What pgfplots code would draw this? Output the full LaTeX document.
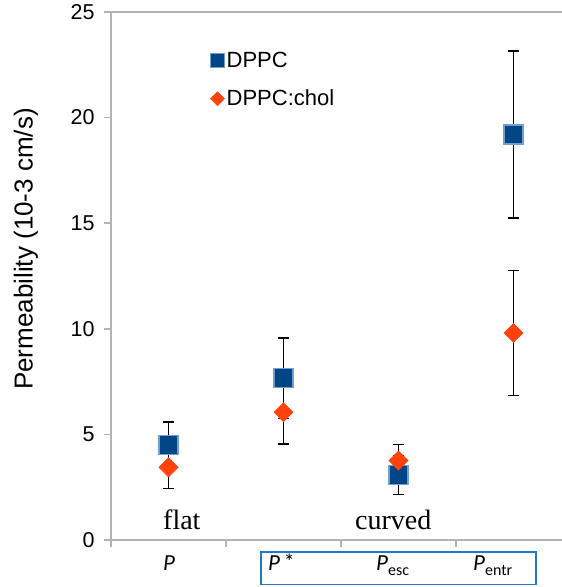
\documentclass[border=0pt]{standalone}
\usepackage{fontspec}
\setmainfont{Liberation Sans}
\newfontfamily\serifont{Liberation Serif}
\newfontfamily\carlito{Carlito}
\usepackage{pgfplots}
\pgfplotsset{compat=1.18}
\definecolor{dblue}{HTML}{004586}
\definecolor{lblue}{HTML}{729FCF}
\definecolor{dorange}{HTML}{FF420E}
\definecolor{axgray}{HTML}{B3B3B3}
\definecolor{boxblue}{HTML}{1F78C8}
\newcommand{\catfont}{\carlito\fontsize{23}{26}\selectfont}
\newcommand{\sub}[1]{\raisebox{-0.22em}{\fontsize{16}{18}\selectfont #1}}
\begin{document}
\begin{tikzpicture}[x=1pt,y=1pt]
\useasboundingbox (-111,-47) rectangle (451,540);
\begin{axis}[
  at={(0,0)}, anchor=origin,
  scale only axis, width=451pt, height=528pt,
  xmin=0, xmax=3.9217, ymin=0, ymax=25,
  axis lines*=left,
  axis line style={axgray, line width=1.5pt},
  xtick={0,1,2,3}, xticklabels={},
  ytick={0,5,10,15,20,25},
  tick style={axgray, line width=1.5pt},
  tick align=outside,
  major tick length=7pt,
  extra y ticks={25}, extra y tick labels={},
  extra y tick style={grid=major, grid style={axgray, line width=1.5pt}},
  /pgf/number format/assume math mode=true,
  yticklabel style={font=\fontsize{21.5}{24}\selectfont, xshift=-6pt},
  legend style={at={(0.218,0.93)}, anchor=north west, draw=none, fill=none,
    font=\fontsize{22}{25}\selectfont, row sep=17pt, inner sep=1pt,
    /tikz/every even column/.append style={column sep=0pt}},
  legend cell align=left,
  clip=false,
]
% error bars first (behind all markers)
\addplot[forget plot, draw=none, mark=none,
  error bars/.cd, y dir=both, y explicit,
  error bar style={draw=black, line width=1.5pt},
  error mark options={rotate=90, mark size=5.5pt, line width=1.5pt, draw=black}]
  coordinates {(0.5,4.48) +- (0,1.10) (1.5,7.66) +- (0,1.90) (2.5,3.08) +- (0,0.92) (3.5,19.2) +- (0,3.95)};
\addplot[forget plot, draw=none, mark=none,
  error bars/.cd, y dir=both, y explicit,
  error bar style={draw=black, line width=1.5pt},
  error mark options={rotate=90, mark size=5.5pt, line width=1.5pt, draw=black}]
  coordinates {(0.5,3.44) +- (0,1.00) (1.5,6.05) +- (0,1.50) (2.5,3.76) +- (0,0.77) (3.5,9.80) +- (0,2.95)};
% markers
\addplot[forget plot, only marks, mark=square*, mark size=9.5pt,
  mark options={fill=dblue, draw=lblue, line width=1.2pt}]
  coordinates {(0.5,4.48) (1.5,7.66) (2.5,3.08) (3.5,19.2)};
\addplot[forget plot, only marks, mark=square*, mark size=6.8pt,
  mark options={fill=dorange, draw=dorange, line width=0.5pt, rotate=45}]
  coordinates {(0.5,3.44) (1.5,6.05) (2.5,3.76) (3.5,9.80)};
% legend images
\addlegendimage{only marks, mark=square*, mark size=7pt, mark options={fill=dblue, draw=lblue, line width=1pt}}
\addlegendentry{DPPC}
\addlegendimage{only marks, mark=square*, mark size=5pt, mark options={fill=dorange, draw=dorange, rotate=45}}
\addlegendentry{DPPC:chol}
\end{axis}
% y label
\node[rotate=90, font=\fontsize{26}{29}\selectfont] at (-85,291) {Permeability (10-3 cm/s)};
% annotations inside plot
\node[anchor=base west, font=\serifont\fontsize{28}{30}\selectfont, inner sep=0pt] at (52,11) {flat};
\node[anchor=base west, font=\serifont\fontsize{28}{30}\selectfont, inner sep=0pt] at (244,11) {curved};
% category labels below axis
\node[anchor=base west, font=\catfont, inner sep=0pt] at (52,-30) {\itshape P};
\node[anchor=base west, font=\catfont, inner sep=0pt] at (157,-30) {{\itshape P}\,\raisebox{0.02em}{\fontsize{22}{22}\selectfont *}};
\node[anchor=base west, font=\catfont, inner sep=0pt] at (265,-30) {{\itshape P}\sub{esc}};
\node[anchor=base west, font=\catfont, inner sep=0pt] at (362,-30) {{\itshape P}\sub{entr}};
\draw[boxblue, line width=1.5pt] (150,-44.5) rectangle (425,-12);
\end{tikzpicture}
\end{document}
